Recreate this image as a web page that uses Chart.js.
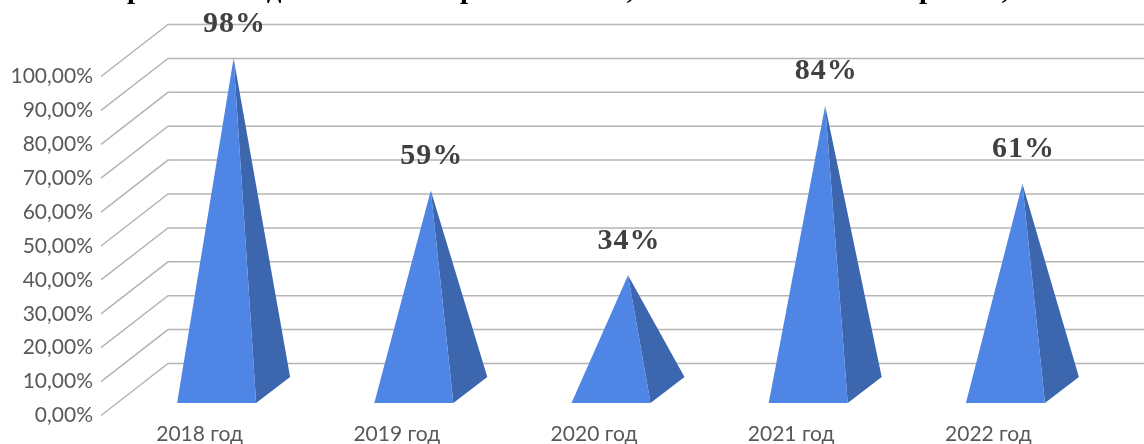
<!DOCTYPE html>
<html lang="ru">
<head>
<meta charset="utf-8">
<title>Chart</title>
<style>
  html, body { margin: 0; padding: 0; background: #fff; overflow: hidden; }
  canvas { display: block; }
</style>
<script src="https://cdn.jsdelivr.net/npm/chart.js@4"></script>
</head>
<body>
<canvas id="chart" width="1144" height="444"></canvas>
<script>
/* data */
const categories = ['2018 год', '2019 год', '2020 год', '2021 год', '2022 год'];
const values = [98, 59, 34, 84, 61];
const tickLabels = ['0,00%', '10,00%', '20,00%', '30,00%', '40,00%', '50,00%', '60,00%', '70,00%', '80,00%', '90,00%', '100,00%'];

// the title is cut by the top edge of the picture, only these bits of it show
const titleBits = ['р', 'д', 'р', ',', 'р', ','];
const titleBitsX = [135, 274, 468, 630, 927, 1005];

/* 3d look */
const backDx = 67, backDy = 52;     // wall offset from the axis plane
const baseDx = 17, baseDy = 12.5;   // front edge of the pyramid base
const sideDx = 34, sideDy = 26;     // depth of the base
const halfBase = 39.5;

/* ── gridlines: floor diagonal + back wall ── */
const wallGrid = {
  id: 'wallGrid',
  beforeDatasetsDraw(chart) {
    const { ctx, scales: { y }, chartArea, width } = chart;
    ctx.save();
    ctx.strokeStyle = '#b5b5b5';
    ctx.lineWidth = 1.5;
    y.ticks.forEach(t => {
      const py = y.getPixelForValue(t.value);
      ctx.beginPath();
      ctx.moveTo(chartArea.left, py);
      ctx.lineTo(chartArea.left + backDx, py - backDy);
      ctx.lineTo(width, py - backDy);
      ctx.stroke();
    });
    ctx.restore();
  }
};

/* ── pyramids, placed from the bar elements ── */
const pyramids = {
  id: 'pyramids',
  afterDatasetsDraw(chart) {
    const { ctx, scales: { y } } = chart;
    const floor = y.getPixelForValue(0);
    ctx.save();
    chart.getDatasetMeta(0).data.forEach((bar, i) => {
      const cx = bar.x + baseDx;
      const fy = floor - baseDy;
      const topX = bar.x + baseDx + sideDx / 2;
      const topY = bar.y - 25;

      ctx.fillStyle = '#3c66ad';
      ctx.beginPath();
      ctx.moveTo(cx + halfBase, fy);
      ctx.lineTo(cx + halfBase + sideDx, fy - sideDy);
      ctx.lineTo(topX, topY);
      ctx.closePath();
      ctx.fill();

      ctx.fillStyle = '#4f85e5';
      ctx.beginPath();
      ctx.moveTo(cx - halfBase, fy);
      ctx.lineTo(cx + halfBase, fy);
      ctx.lineTo(topX, topY);
      ctx.closePath();
      ctx.fill();

      ctx.fillStyle = '#404040';
      ctx.font = "bold 30px 'Liberation Serif'";
      ctx.textAlign = 'center';
      ctx.textBaseline = 'middle';
      ctx.letterSpacing = '1px';
      ctx.fillText(values[i] + '%', topX + 1, topY - 34);
    });
    ctx.restore();
  }
};

/* ── what is left of the title ── */
const titleEdge = {
  id: 'titleEdge',
  afterDraw(chart) {
    const { ctx } = chart;
    ctx.save();
    ctx.fillStyle = '#000';
    ctx.font = "bold 29px 'Liberation Serif'";
    ctx.textAlign = 'center';
    ctx.textBaseline = 'alphabetic';
    titleBits.forEach((s, i) => ctx.fillText(s, titleBitsX[i], -2));
    ctx.restore();
  }
};

new Chart(document.getElementById('chart'), {
  type: 'bar',
  data: {
    labels: categories,
    datasets: [{ data: values, backgroundColor: 'rgba(0,0,0,0)', borderWidth: 0 }]
  },
  plugins: [wallGrid, pyramids, titleEdge],
  options: {
    responsive: false,
    animation: false,
    layout: { padding: { top: 76.5, right: 57, left: 0, bottom: 0 } },
    plugins: { legend: { display: false }, tooltip: { enabled: false }, title: { display: false } },
    scales: {
      x: {
        afterFit: s => { s.height = 28.5; },
        grid: { display: false },
        border: { display: false },
        ticks: { color: '#595959', padding: -2, maxRotation: 0, font: { family: 'Lato', size: 21 } }
      },
      y: {
        min: 0, max: 100,
        afterFit: s => { s.width = 101; },
        grid: { display: false },
        border: { display: false },
        ticks: {
          stepSize: 10, color: '#595959', padding: 0,
          font: { family: 'Lato', size: 21 },
          callback: (v, i) => tickLabels[i]
        }
      }
    }
  }
});
</script>
</body>
</html>
